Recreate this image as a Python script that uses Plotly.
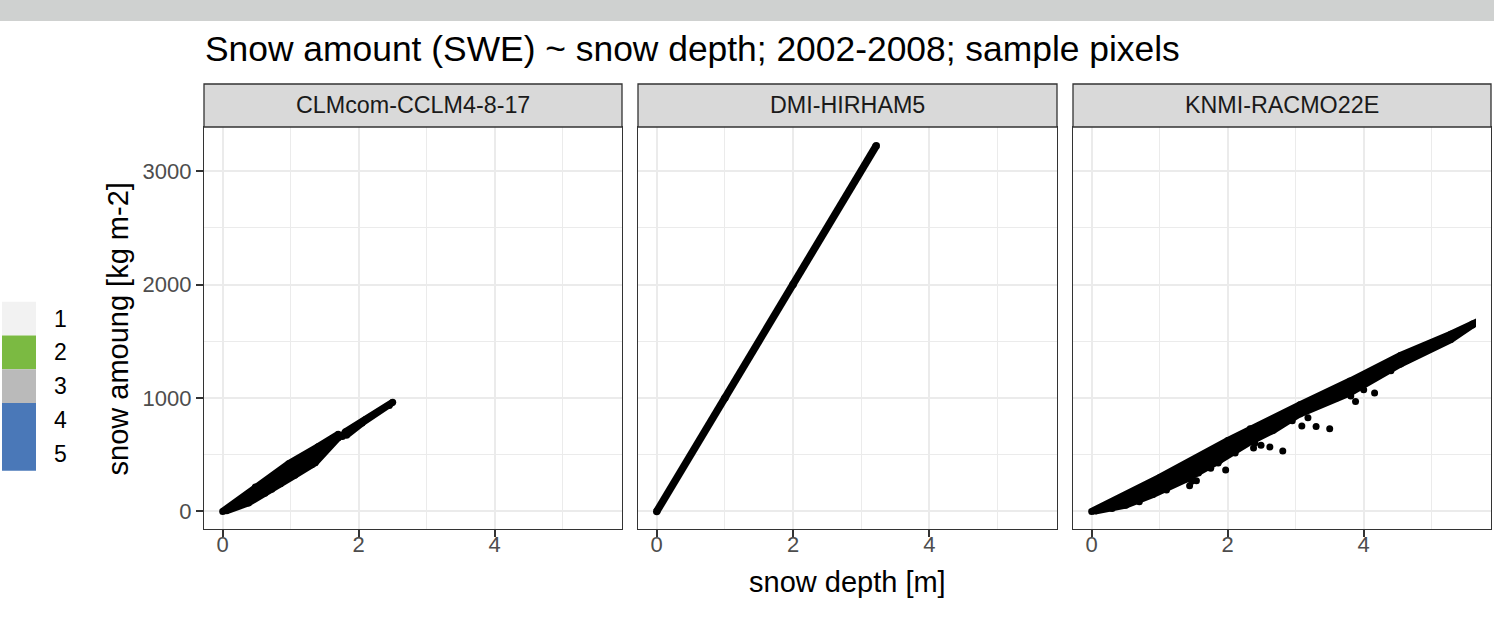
import plotly.graph_objects as go

W, H = 1494, 630

# ---------------- data ----------------
title_text = "Snow amount (SWE) ~ snow depth; 2002-2008; sample pixels"
models = ["CLMcom-CCLM4-8-17", "DMI-HIRHAM5", "KNMI-RACMO22E"]
x_title = "snow depth [m]"
y_title = "snow amoung [kg m-2]"
x_ticks = [0, 2, 4]
y_ticks = [0, 1000, 2000, 3000]

legend_labels = ["1", "2", "3", "4", "5"]
legend_colors = ["#f2f2f2", "#7bba42", "#bababa", "#4a78b8", "#4a78b8"]

# CLMcom: dense core of points (outline of point centres), upper segment, stray points
clm_core_x = [0.0, 0.48, 0.97, 1.40, 1.70, 1.70, 1.36, 1.06, 0.72, 0.38, 0.05]
clm_core_y = [0, 215, 420, 570, 680, 650, 430, 320, 195, 75, 5]
clm_upper_x = [1.80, 2.10, 2.50, 2.45, 2.05, 1.82]
clm_upper_y = [700, 810, 962, 935, 780, 672]
clm_pts_x = [1.31, 1.04, 1.78, 1.76, 0.62, 0.85]
clm_pts_y = [411, 323, 680, 660, 160, 245]

# DMI: points on one line
dmi_x = [0.0, 1.0, 2.0, 3.22]
dmi_y = [0, 1000, 2000, 3225]

# KNMI: dense wedge (outline of point centres) and scattered points
knmi_core_x = [0.0, 1.0, 2.0, 2.33, 3.06, 3.80, 4.54, 5.28, 5.60,
               5.60, 5.28, 4.54, 3.80, 3.06, 2.67, 2.35, 1.88, 1.39, 0.90, 0.50, 0.05]
knmi_core_y = [0, 300, 625, 728, 940, 1150, 1375, 1562, 1652,
               1645, 1515, 1300, 1045, 860, 715, 620, 450, 285, 150, 55, 3]
knmi_pts_x = [1.97, 2.81, 3.09, 3.30, 3.50, 2.49, 2.62, 2.38, 3.88, 4.00, 3.81, 4.16,
              3.18, 1.44, 1.54, 4.54, 4.40, 1.22, 1.47, 1.57, 1.86, 2.11, 2.40, 0.70, 1.10,
              0.30, 1.75, 2.95, 3.60, 4.90, 5.10]
knmi_pts_y = [366, 533, 753, 748, 729, 583, 568, 560, 970, 1074, 1018, 1045,
              825, 226, 271, 1300, 1240, 250, 265, 338, 426, 515, 603, 85, 190,
              25, 380, 800, 1000, 1420, 1480]

# ---------------- layout geometry (pixels) ----------------
panels_px = [(204, 622), (638, 1057), (1073, 1491)]
plot_top, plot_bot = 127, 529
strip_top = 84
x_range = [-0.275, 5.872]
y_range = [-155, 3390]


def fx(p):
    return p / W


def fy(p):
    return 1 - p / H


fig = go.Figure()

marker = dict(color="black", size=7)
line = dict(color="black", width=7)

fig.add_trace(go.Scatter(x=clm_core_x, y=clm_core_y, xaxis="x", yaxis="y", mode="lines+markers",
                         fill="toself", fillcolor="black", line=line, marker=marker))
fig.add_trace(go.Scatter(x=clm_upper_x, y=clm_upper_y, xaxis="x", yaxis="y", mode="lines+markers",
                         fill="toself", fillcolor="black", line=line, marker=marker))
fig.add_trace(go.Scatter(x=clm_pts_x, y=clm_pts_y, xaxis="x", yaxis="y", mode="markers", marker=marker))

fig.add_trace(go.Scatter(x=dmi_x, y=dmi_y, xaxis="x2", yaxis="y2", mode="lines+markers",
                         line=dict(color="black", width=7.5), marker=dict(color="black", size=7.5)))

fig.add_trace(go.Scatter(x=knmi_core_x, y=knmi_core_y, xaxis="x3", yaxis="y3", mode="lines+markers",
                         fill="toself", fillcolor="black", line=line, marker=marker))
fig.add_trace(go.Scatter(x=knmi_pts_x, y=knmi_pts_y, xaxis="x3", yaxis="y3", mode="markers", marker=marker))

font_family = "Liberation Sans, Arial, sans-serif"
axis_common = dict(
    showline=True, mirror=True, linecolor="#333333", linewidth=1.3,
    showgrid=True, gridcolor="#ebebeb", gridwidth=2, zeroline=False,
    tickfont=dict(family=font_family, size=22, color="#4d4d4d"),
)

layout = dict(
    width=W, height=H, margin=dict(l=0, r=0, t=0, b=0),
    paper_bgcolor="white", plot_bgcolor="white", showlegend=False,
    font=dict(family=font_family),
)

for i, (l, r) in enumerate(panels_px):
    sfx = "" if i == 0 else str(i + 1)
    layout["xaxis" + sfx] = dict(
        axis_common, domain=[fx(l), fx(r)], anchor="y" + sfx, range=x_range,
        tickvals=x_ticks, ticktext=[str(v) for v in x_ticks],
        ticks="outside", ticklen=7, tickwidth=2, tickcolor="#333333", ticklabelstandoff=-12,
        minor=dict(dtick=1, tick0=0, showgrid=True, gridcolor="#ebebeb", gridwidth=1, ticks=""),
    )
    ydict = dict(
        axis_common, domain=[fy(plot_bot), fy(plot_top)], anchor="x" + sfx, range=y_range,
        tickvals=y_ticks, ticktext=[str(v) for v in y_ticks],
        minor=dict(dtick=500, tick0=0, showgrid=True, gridcolor="#ebebeb", gridwidth=1, ticks=""),
    )
    if i == 0:
        ydict.update(ticks="outside", ticklen=7, tickwidth=2, tickcolor="#333333")
    else:
        ydict.update(showticklabels=False, ticks="")
    layout["yaxis" + sfx] = ydict

shapes = [dict(type="rect", xref="paper", yref="paper", x0=0, x1=1, y0=fy(21), y1=1,
               fillcolor="#cfd1d0", line=dict(width=0))]
annotations = []
for (l, r), name in zip(panels_px, models):
    shapes.append(dict(type="rect", xref="paper", yref="paper", x0=fx(l), x1=fx(r),
                       y0=fy(plot_top), y1=fy(strip_top), fillcolor="#d9d9d9",
                       line=dict(color="#333333", width=1.3)))
    annotations.append(dict(text=name, xref="paper", yref="paper", x=fx((l + r) / 2), y=fy(105.5),
                            xanchor="center", yanchor="middle", showarrow=False,
                            font=dict(family=font_family, size=23.3, color="#1a1a1a")))

# legend-like colour key on the left
key_top, key_h = 301.7, 33.8
for k, (lab, col) in enumerate(zip(legend_labels, legend_colors)):
    shapes.append(dict(type="rect", xref="paper", yref="paper", x0=fx(2), x1=fx(36),
                       y0=fy(key_top + (k + 1) * key_h), y1=fy(key_top + k * key_h),
                       fillcolor=col, line=dict(width=0), layer="above"))
    annotations.append(dict(text=lab, xref="paper", yref="paper", x=fx(52),
                            y=fy(key_top + (k + 0.5) * key_h), xanchor="left", yanchor="middle",
                            showarrow=False, font=dict(family=font_family, size=23, color="black")))

annotations.append(dict(text=title_text, xref="paper", yref="paper", x=fx(203), y=fy(49.5),
                        xanchor="left", yanchor="middle", showarrow=False,
                        font=dict(family=font_family, size=35.4, color="black")))
annotations.append(dict(text=x_title, xref="paper", yref="paper", x=fx(847.5), y=fy(582),
                        xanchor="center", yanchor="middle", showarrow=False,
                        font=dict(family=font_family, size=29, color="black")))
annotations.append(dict(text=y_title, xref="paper", yref="paper", x=fx(117), y=fy(329.5),
                        xanchor="center", yanchor="middle", showarrow=False, textangle=-90,
                        font=dict(family=font_family, size=29, color="black")))

layout["shapes"] = shapes
layout["annotations"] = annotations
fig.update_layout(**layout)

fig.write_html("out.html", config={"displayModeBar": False},
               post_script="document.body.style.margin='0';")
